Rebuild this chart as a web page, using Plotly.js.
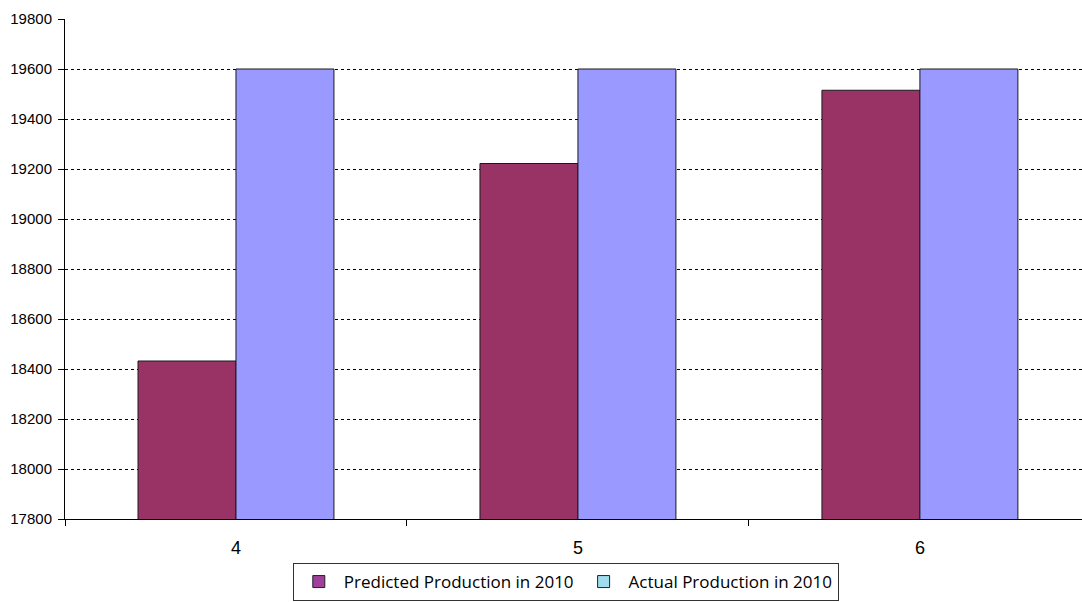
<!DOCTYPE html>
<html>
<head>
<meta charset="utf-8">
<script src="https://cdn.plot.ly/plotly-3.0.1.min.js"></script>
<style>html,body{margin:0;padding:0;background:#fff;}#chart{width:1082px;height:602px;}</style>
</head>
<body>
<div id="chart"></div>
<script>
const categories = ["4", "5", "6"];
const predicted = [18432, 19222, 19515];
const actual = [19600, 19600, 19600];
const seriesNames = ["Predicted Production in 2010", "Actual Production in 2010"];
const yTicks = [17800, 18000, 18200, 18400, 18600, 18800, 19000, 19200, 19400, 19600, 19800];
const gridTicks = [18000, 18200, 18400, 18600, 18800, 19000, 19200, 19400, 19600];

const traces = [
  {type: 'bar', x: categories, y: predicted, name: seriesNames[0], showlegend: false,
   marker: {color: '#993366', line: {color: '#1a1a1a', width: 1}}},
  {type: 'bar', x: categories, y: actual, name: seriesNames[1], showlegend: false,
   marker: {color: '#9999ff', line: {color: '#1a1a1a', width: 1}}},
  {type: 'bar', x: [categories[0]], y: [null], xaxis: 'x2', name: seriesNames[0], showlegend: true,
   marker: {color: '#a0409c', line: {color: '#222', width: 1}}},
  {type: 'bar', x: [categories[0]], y: [null], xaxis: 'x2', name: seriesNames[1], showlegend: true,
   marker: {color: '#9edcee', line: {color: '#222', width: 1}}}
];

const layout = {
  width: 1082, height: 602,
  margin: {l: 65, r: 0, t: 19, b: 83},
  paper_bgcolor: '#fff', plot_bgcolor: '#fff',
  barmode: 'group', bargap: 0.427, bargroupgap: 0,
  font: {family: 'Liberation Sans, Arial, sans-serif', size: 14, color: '#000'},
  xaxis: {
    type: 'category', range: [-0.5, 2.474], tickson: 'boundaries',
    ticks: 'outside', ticklen: 6, tickcolor: '#000', tickwidth: 1,
    showline: true, linecolor: '#000', linewidth: 1, showgrid: false,
    tickfont: {size: 18}, ticklabelstandoff: 12, fixedrange: true
  },
  xaxis2: {type: 'category', overlaying: 'x', visible: false, range: [-0.5, 2.474]},
  yaxis: {
    range: [17800, 19800], tickmode: 'array', tickvals: yTicks, tickformat: 'd',
    ticks: 'outside', ticklen: 6, tickcolor: '#000', tickwidth: 1,
    showline: true, linecolor: '#000', linewidth: 1, showgrid: false, zeroline: false,
    tickfont: {size: 15}, ticklabelstandoff: 3,
    minor: {tickmode: 'array', tickvals: gridTicks, showgrid: true, gridcolor: '#000',
            gridwidth: 1, griddash: '3px,3px', ticks: ''}
  },
  showlegend: true,
  legend: {
    orientation: 'h', x: 0.224, xanchor: 'left', y: -0.088, yanchor: 'top',
    bordercolor: '#333', borderwidth: 1, bgcolor: '#fff',
    font: {family: 'Open Sans, sans-serif', size: 17, color: '#000'},
    traceorder: 'normal', itemwidth: 40
  }
};

Plotly.newPlot('chart', traces, layout, {displayModeBar: false, staticPlot: true});
</script>
</body>
</html>
